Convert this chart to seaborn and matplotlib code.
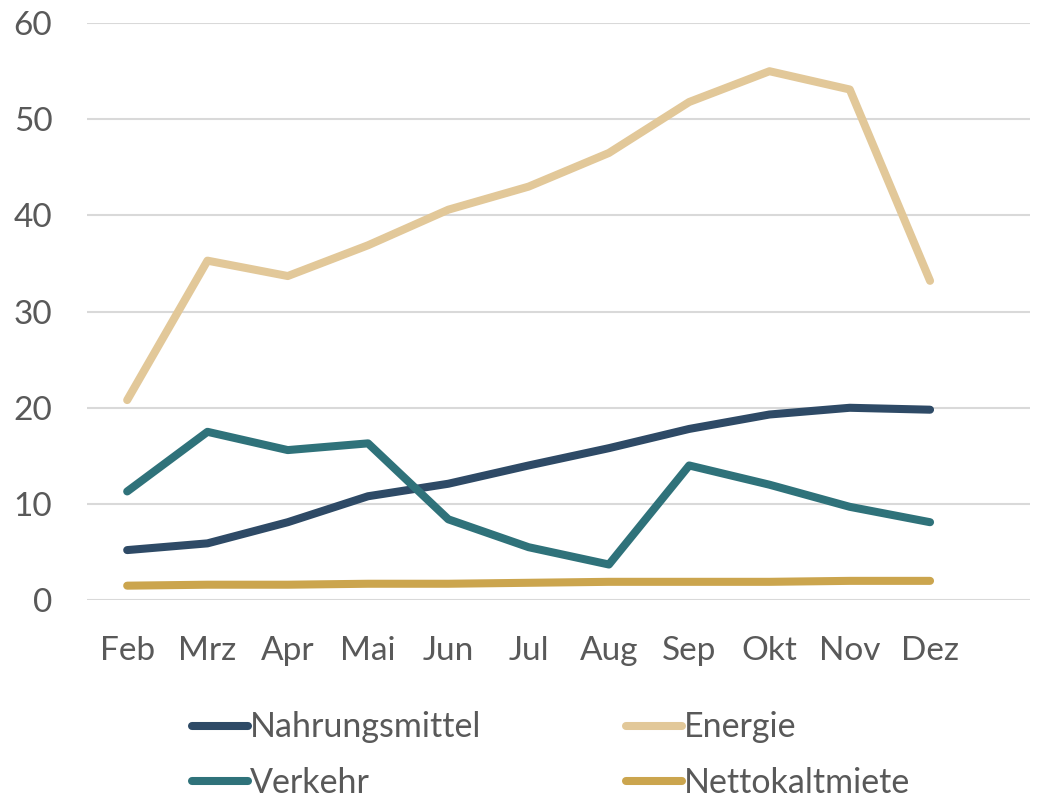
import pandas as pd
import matplotlib.pyplot as plt
import seaborn as sns

months = ["Feb", "Mrz", "Apr", "Mai", "Jun", "Jul", "Aug", "Sep", "Okt", "Nov", "Dez"]
nahrungsmittel = [5.2, 5.9, 8.1, 10.8, 12.1, 14.0, 15.8, 17.8, 19.3, 20.0, 19.8]
energie = [20.8, 35.3, 33.7, 36.9, 40.6, 43.0, 46.5, 51.8, 55.0, 53.1, 33.2]
verkehr = [11.3, 17.5, 15.6, 16.3, 8.4, 5.5, 3.7, 14.0, 12.0, 9.7, 8.1]
nettokaltmiete = [1.5, 1.6, 1.6, 1.7, 1.7, 1.8, 1.9, 1.9, 1.9, 2.0, 2.0]

series = {
    "Nahrungsmittel": nahrungsmittel,
    "Energie": energie,
    "Verkehr": verkehr,
    "Nettokaltmiete": nettokaltmiete,
}
colors = {
    "Nahrungsmittel": "#2E4A66",
    "Energie": "#E2C899",
    "Verkehr": "#2F727A",
    "Nettokaltmiete": "#CBA54E",
}

rows = []
for name, vals in series.items():
    for i, v in enumerate(vals):
        rows.append({"idx": i, "Monat": months[i], "Wert": v, "Reihe": name})
df = pd.DataFrame(rows)

sns.set_style("white")
plt.rcParams["font.family"] = ["Lato", "DejaVu Sans"]

fig = plt.figure(figsize=(10.4, 7.98), dpi=100)
ax = fig.add_axes([0.0837, 0.248, 0.9063, 0.723])

sns.lineplot(data=df, x="idx", y="Wert", hue="Reihe", hue_order=list(series.keys()),
             palette=colors, linewidth=5.8, solid_capstyle="round", ax=ax, legend=False)

ax.set_xlim(-0.5, 11.24)
ax.set_ylim(0, 60)
ax.set_yticks(range(0, 61, 10))
ax.set_xticks(range(len(months)))
ax.set_xticklabels(months)
ax.yaxis.grid(True, color="#D9D9D9", linewidth=1.5)
ax.set_axisbelow(True)
for s in ax.spines.values():
    s.set_visible(False)
ax.set_xlabel("")
ax.set_ylabel("")
ax.tick_params(axis="both", length=0, labelsize=24, colors="#595959")
ax.tick_params(axis="y", pad=25)
ax.tick_params(axis="x", pad=26)

handles = []
labels = []
for name in ["Nahrungsmittel", "Verkehr", "Energie", "Nettokaltmiete"]:
    h, = ax.plot([], [], color=colors[name], linewidth=5.8, solid_capstyle="round")
    handles.append(h)
    labels.append(name)
leg = fig.legend(handles, labels, ncol=2, loc="lower left", bbox_to_anchor=(0.155, -0.04),
                 frameon=False, fontsize=24.5, handlelength=1.65, handletextpad=0.05,
                 columnspacing=4.27, labelspacing=0.7, labelcolor="#595959")

fig.savefig("out.png", dpi=100)
